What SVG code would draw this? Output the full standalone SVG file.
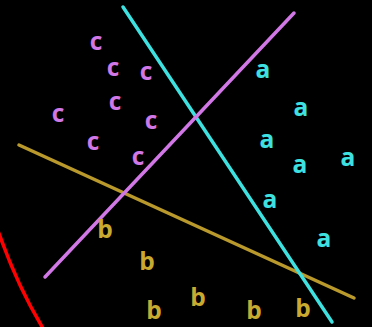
<svg xmlns="http://www.w3.org/2000/svg" width="372" height="327" viewBox="0 0 372 327">
<style>
.ln{stroke-width:3.5;stroke-linecap:round;fill:none}
text{font-family:"Open Sans","Liberation Sans",sans-serif;font-weight:bold;font-size:24.5px;text-anchor:middle}
.c{fill:#d177e6}
.a{fill:#3ee0e0}
.b{fill:#c9aa30}
</style>
<rect width="372" height="327" fill="#000"/>
<g id="connectors">
<path class="ln" d="M-3 228 Q 17 286 44 330" stroke="#ff0000" stroke-width="6"/>
<line class="ln" x1="19" y1="145" x2="354" y2="298" stroke="#b9992c"/>
<line class="ln" x1="123" y1="7" x2="332" y2="322" stroke="#3ee0e0"/>
<line class="ln" x1="294" y1="13" x2="45" y2="277" stroke="#d177e6"/>
</g>
<g id="class-c">
<text class="c" x="96" y="50">c</text>
<text class="c" x="113" y="76">c</text>
<text class="c" x="146" y="80">c</text>
<text class="c" x="115" y="110">c</text>
<text class="c" x="58" y="122">c</text>
<text class="c" x="151" y="129">c</text>
<text class="c" x="93" y="150">c</text>
<text class="c" x="138" y="165">c</text>
</g>
<g id="class-a">
<text class="a" x="263" y="78">a</text>
<text class="a" x="301" y="116">a</text>
<text class="a" x="267" y="148">a</text>
<text class="a" x="300" y="173">a</text>
<text class="a" x="348" y="166">a</text>
<text class="a" x="270" y="208">a</text>
<text class="a" x="324" y="247">a</text>
</g>
<g id="class-b">
<text class="b" x="105" y="238">b</text>
<text class="b" x="147" y="270">b</text>
<text class="b" x="154" y="319">b</text>
<text class="b" x="198" y="306">b</text>
<text class="b" x="254" y="319">b</text>
<text class="b" x="303" y="317">b</text>
</g>
</svg>
